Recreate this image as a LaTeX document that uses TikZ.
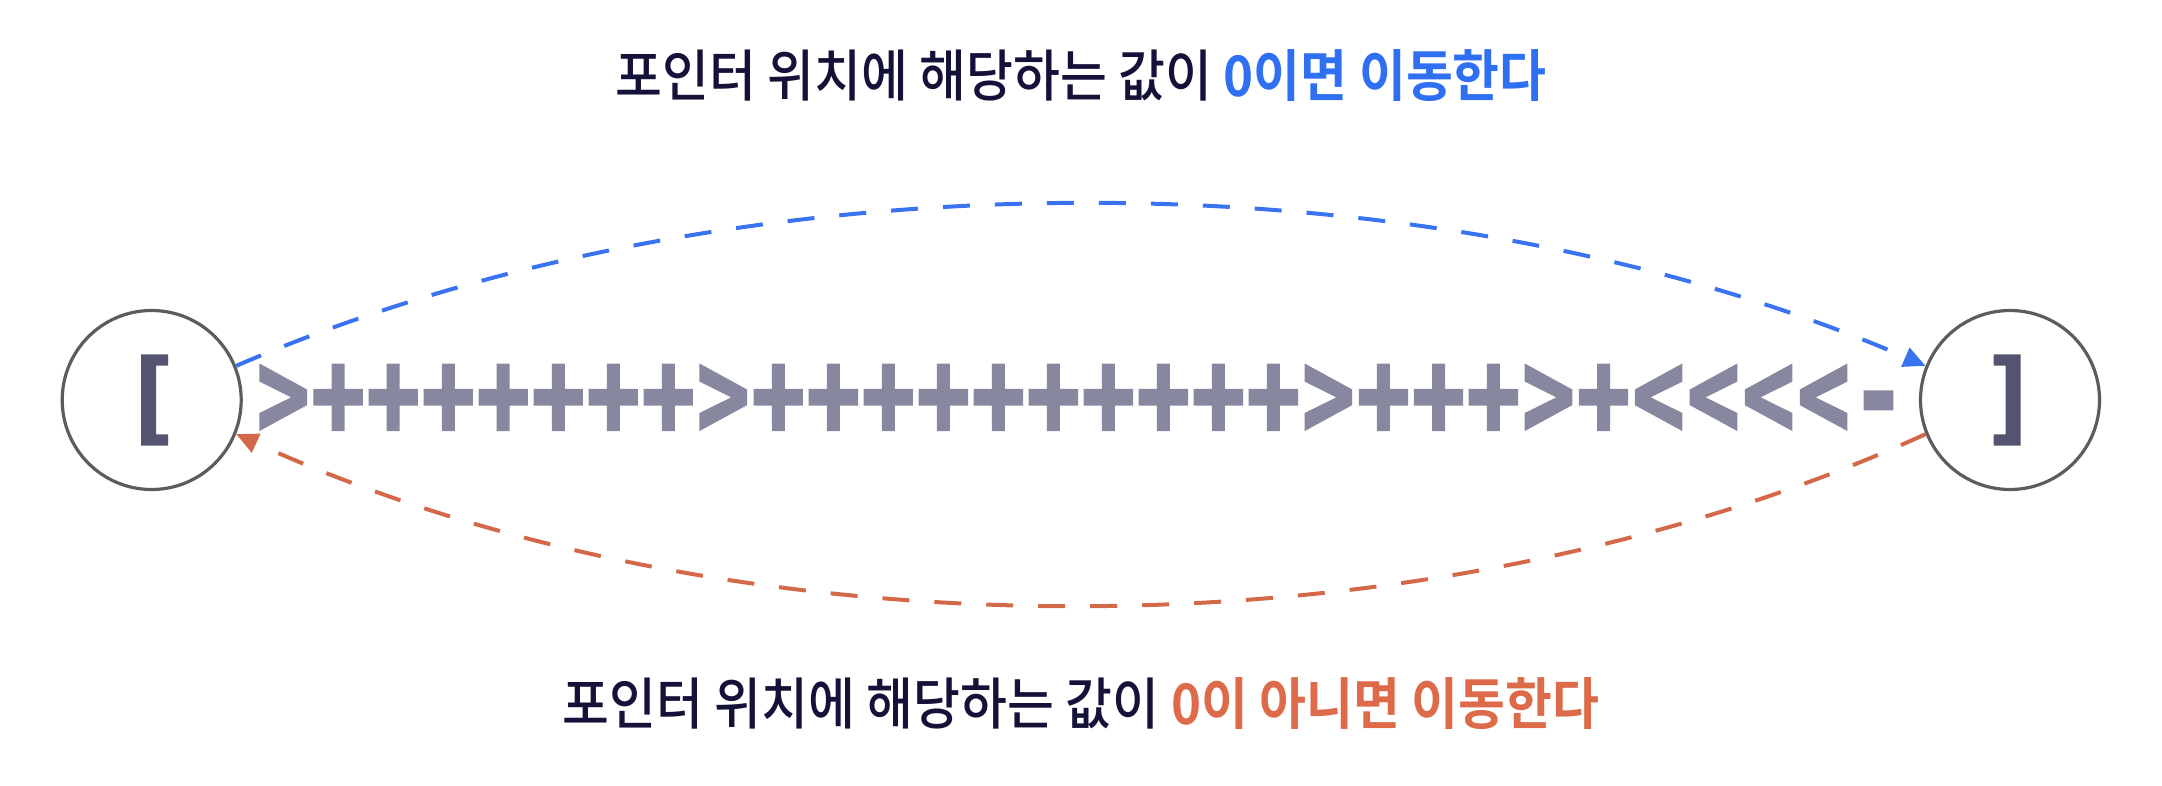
\documentclass[tikz,border=0pt]{standalone}
\usepackage{fontspec}
\usetikzlibrary{arrows.meta}
\newfontfamily\krfont{Noto Sans CJK KR}[FakeStretch=0.91,UprightFont={* Medium},BoldFont={* Bold}]
\newfontfamily\codefont{DejaVu Sans Mono}[FakeBold=2]
\newfontfamily\codenarrow{DejaVu Sans Mono}[FakeBold=2.5,FakeStretch=0.72]
\definecolor{darktext}{HTML}{15123A}
\definecolor{bluetext}{HTML}{2F6FF2}
\definecolor{orangetext}{HTML}{DD6A48}
\definecolor{codegray}{HTML}{8788A0}
\definecolor{bracketcol}{HTML}{545470}
\definecolor{circcol}{HTML}{5C5C5C}
\definecolor{blueline}{HTML}{3A73F0}
\definecolor{orangeline}{HTML}{D4694A}
\def\ck{\kern3pt}
\tikzset{
  circ/.style={circle,draw=circcol,line width=3.2pt,minimum size=179pt,inner sep=0pt,
    text=bracketcol,font=\codefont\bfseries\fontsize{100}{104}\selectfont},
  codetext/.style={text=codegray,font=\codenarrow\bfseries\fontsize{120}{130}\selectfont,inner sep=0pt},
  label/.style={text=darktext,font=\krfont\fontsize{56}{62}\selectfont,inner sep=0pt},
  loopline/.style={line width=4pt,dash pattern=on 27pt off 25pt,-{Triangle[length=22pt,width=20pt]}},
}
\begin{document}
\begin{tikzpicture}[x=1pt,y=-1pt]
\useasboundingbox (0,0) rectangle (2162,786);
\node[circ] (L) at (151.7,400) {[};
\node[circ] (R) at (2010,400) {]};
\node[codetext] (code) at (1081,400) {>\ck+\ck+\ck+\ck+\ck+\ck+\ck+\ck>\ck+\ck+\ck+\ck+\ck+\ck+\ck+\ck+\ck+\ck+\ck>\ck+\ck+\ck+\ck>\ck+\ck<\ck<\ck<\ck<\ck-};
\node[label] (top) at (1081,76) {포인터 위치에 해당하는 값이 {\bfseries\color{bluetext}0이면 이동한다}};
\node[label] (bot) at (1081,704) {포인터 위치에 해당하는 값이 {\bfseries\color{orangetext}0이 아니면 이동한다}};
\draw[loopline,draw=blueline] (L.22) .. controls +(500,-216) and +(-500,-216) .. (R.158);
\draw[loopline,draw=orangeline] (R.202) .. controls +(-500,228) and +(500,228) .. (L.-22);
\end{tikzpicture}
\end{document}
